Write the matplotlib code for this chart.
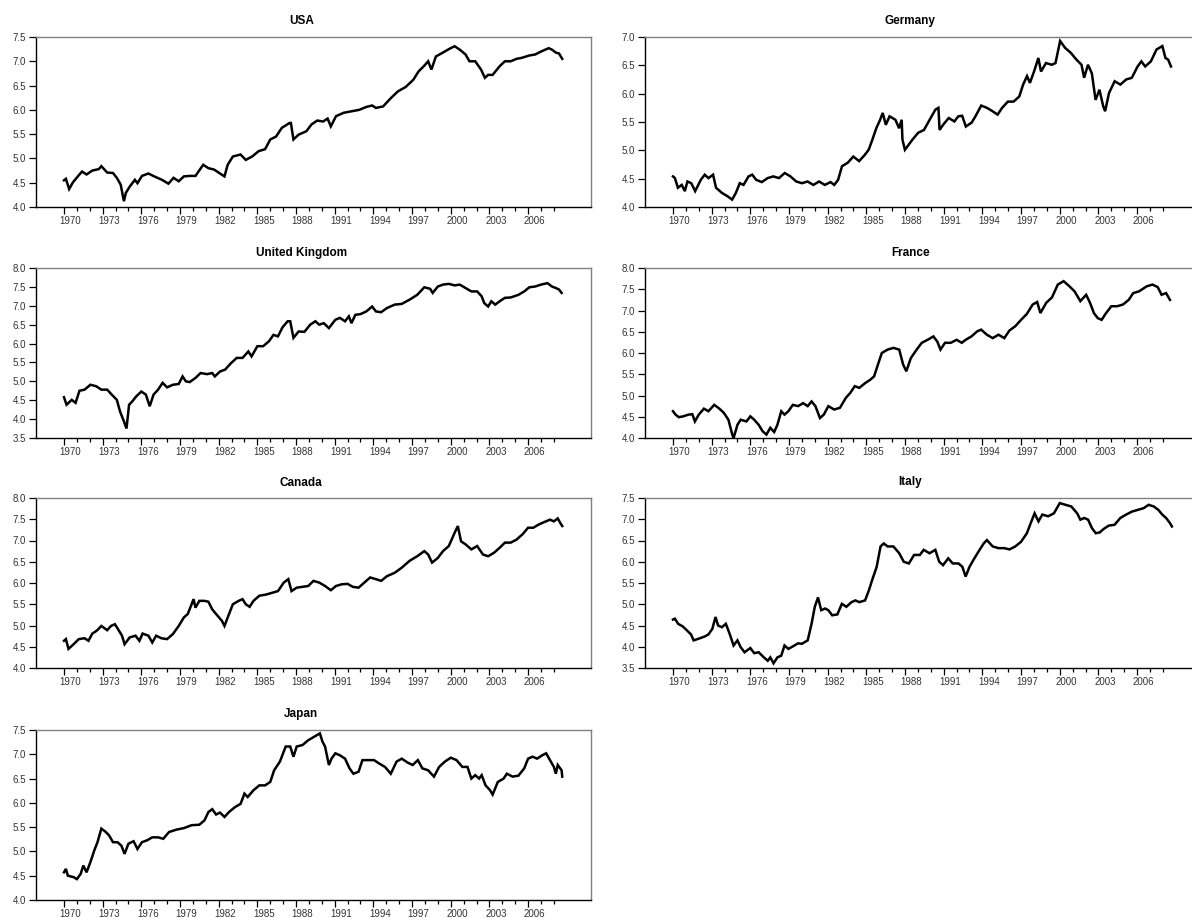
import matplotlib
matplotlib.use("Agg")
import matplotlib.pyplot as plt
from matplotlib.ticker import MultipleLocator, FormatStrFormatter
import matplotlib.transforms as mtransforms

plt.rcParams['font.family'] = ['Liberation Sans', 'DejaVu Sans']

# Log stock price indices (year, value)
usa_t = [1970.0, 1970.15, 1970.4, 1970.7, 1971.2, 1971.4, 1971.75, 1972.2, 1972.7, 1972.9,
         1973.35, 1973.8, 1974.1, 1974.4, 1974.65, 1974.8, 1975.1, 1975.5, 1975.7, 1976.05,
         1976.55, 1977.0, 1977.6, 1978.1, 1978.5, 1978.9, 1979.3, 1979.75, 1980.2, 1980.8,
         1981.2, 1981.65, 1982.1, 1982.45, 1982.7, 1983.1, 1983.7, 1984.1, 1984.6, 1985.1,
         1985.6, 1986.0, 1986.45, 1986.9, 1987.5, 1987.6, 1987.8, 1988.2, 1988.8, 1989.2,
         1989.65, 1990.1, 1990.45, 1990.7, 1991.1, 1991.7, 1992.3, 1992.9, 1993.45, 1993.9,
         1994.2, 1994.75, 1995.35, 1995.9, 1996.5, 1997.1, 1997.5, 1997.95, 1998.25, 1998.5,
         1998.85, 1999.4, 1999.85, 2000.3, 2000.7, 2001.15, 2001.45, 2001.9, 2002.35, 2002.65,
         2002.9, 2003.25, 2003.8, 2004.2, 2004.65, 2005.1, 2005.5, 2006.1, 2006.55, 2007.0,
         2007.6, 2007.85, 2008.15, 2008.4, 2008.65]
usa_v = [4.55, 4.58, 4.37, 4.51, 4.67, 4.73, 4.67, 4.75, 4.78, 4.84,
         4.71, 4.70, 4.60, 4.46, 4.12, 4.29, 4.42, 4.56, 4.49, 4.64,
         4.69, 4.63, 4.56, 4.48, 4.60, 4.53, 4.63, 4.64, 4.64, 4.87,
         4.80, 4.77, 4.69, 4.63, 4.87, 5.04, 5.08, 4.97, 5.04, 5.15,
         5.19, 5.39, 5.45, 5.63, 5.73, 5.73, 5.39, 5.49, 5.56, 5.70,
         5.78, 5.76, 5.82, 5.66, 5.87, 5.94, 5.97, 6.00, 6.06, 6.09,
         6.04, 6.07, 6.24, 6.38, 6.47, 6.62, 6.79, 6.91, 7.00, 6.83,
         7.10, 7.18, 7.25, 7.31, 7.24, 7.14, 7.00, 7.00, 6.83, 6.66,
         6.72, 6.72, 6.90, 7.00, 7.00, 7.05, 7.07, 7.12, 7.14, 7.20,
         7.27, 7.24, 7.18, 7.16, 7.05]

ger_t = [1970.0, 1970.15, 1970.38, 1970.68, 1970.92, 1971.12, 1971.42, 1971.72, 1972.16, 1972.46,
         1972.75, 1973.11, 1973.34, 1973.79, 1974.23, 1974.59, 1974.88, 1975.18, 1975.47, 1975.86,
         1976.15, 1976.45, 1976.89, 1977.34, 1977.78, 1978.22, 1978.67, 1979.11, 1979.56, 1980.0,
         1980.44, 1980.89, 1981.33, 1981.78, 1982.22, 1982.51, 1982.81, 1983.11, 1983.55, 1983.99,
         1984.44, 1984.88, 1985.18, 1985.47, 1985.77, 1986.07, 1986.27, 1986.51, 1986.8, 1987.25,
         1987.54, 1987.74, 1987.8, 1987.99, 1988.58, 1989.02, 1989.47, 1989.91, 1990.36, 1990.59,
         1990.68, 1990.95, 1991.39, 1991.83, 1992.13, 1992.43, 1992.72, 1993.17, 1993.46, 1993.91,
         1994.35, 1994.79, 1995.18, 1995.53, 1995.98, 1996.42, 1996.86, 1997.16, 1997.46, 1997.69,
         1998.05, 1998.34, 1998.55, 1998.93, 1999.38, 1999.67, 2000.03, 2000.41, 2000.86, 2001.3,
         2001.69, 2001.89, 2002.19, 2002.49, 2002.78, 2003.08, 2003.37, 2003.52, 2003.82, 2004.26,
         2004.7, 2005.15, 2005.59, 2006.04, 2006.33, 2006.63, 2007.07, 2007.51, 2007.96, 2008.2,
         2008.41, 2008.63]
ger_v = [4.54, 4.51, 4.34, 4.39, 4.28, 4.45, 4.42, 4.28, 4.48, 4.57,
         4.51, 4.57, 4.34, 4.25, 4.19, 4.13, 4.25, 4.42, 4.39, 4.54,
         4.57, 4.48, 4.44, 4.51, 4.54, 4.51, 4.60, 4.54, 4.45, 4.42,
         4.45, 4.39, 4.45, 4.39, 4.44, 4.39, 4.48, 4.72, 4.78, 4.89,
         4.81, 4.92, 5.01, 5.19, 5.39, 5.54, 5.66, 5.45, 5.60, 5.54,
         5.39, 5.54, 5.19, 5.01, 5.19, 5.31, 5.36, 5.54, 5.72, 5.75,
         5.36, 5.45, 5.57, 5.51, 5.60, 5.61, 5.42, 5.49, 5.60, 5.79,
         5.75, 5.69, 5.63, 5.75, 5.86, 5.86, 5.95, 6.16, 6.31, 6.19,
         6.42, 6.63, 6.39, 6.54, 6.51, 6.54, 6.93, 6.81, 6.72, 6.60,
         6.51, 6.28, 6.51, 6.36, 5.89, 6.07, 5.78, 5.69, 6.01, 6.22,
         6.16, 6.25, 6.28, 6.48, 6.57, 6.48, 6.57, 6.78, 6.84, 6.63,
         6.60, 6.48]

uk_t = [1970.0, 1970.2, 1970.6, 1970.9, 1971.2, 1971.6, 1972.05, 1972.5, 1972.9, 1973.35,
        1973.7, 1974.1, 1974.35, 1974.65, 1974.85, 1975.05, 1975.3, 1975.6, 1976.0, 1976.35,
        1976.65, 1976.95, 1977.3, 1977.65, 1978.0, 1978.45, 1978.9, 1979.2, 1979.45, 1979.75,
        1980.2, 1980.6, 1981.1, 1981.5, 1981.7, 1982.1, 1982.5, 1982.95, 1983.4, 1983.85,
        1984.3, 1984.55, 1985.0, 1985.45, 1985.9, 1986.25, 1986.6, 1986.95, 1987.35, 1987.55,
        1987.8, 1988.2, 1988.65, 1989.1, 1989.5, 1989.8, 1990.15, 1990.55, 1991.05, 1991.4,
        1991.8, 1992.1, 1992.3, 1992.6, 1993.0, 1993.45, 1993.9, 1994.2, 1994.6, 1995.05,
        1995.65, 1996.2, 1996.8, 1997.4, 1997.95, 1998.4, 1998.6, 1999.0, 1999.4, 1999.85,
        2000.3, 2000.7, 2001.15, 2001.6, 2002.05, 2002.4, 2002.6, 2002.9, 2003.15, 2003.45,
        2003.8, 2004.2, 2004.65, 2005.25, 2005.7, 2006.1, 2006.55, 2007.0, 2007.5, 2007.85,
        2008.15, 2008.4, 2008.6]
uk_v = [4.58, 4.38, 4.51, 4.43, 4.75, 4.78, 4.91, 4.87, 4.78, 4.78,
        4.65, 4.51, 4.20, 3.94, 3.75, 4.38, 4.47, 4.60, 4.73, 4.65,
        4.34, 4.65, 4.78, 4.96, 4.84, 4.91, 4.93, 5.13, 5.00, 4.98,
        5.09, 5.22, 5.19, 5.22, 5.13, 5.26, 5.31, 5.48, 5.62, 5.62,
        5.79, 5.66, 5.93, 5.93, 6.06, 6.23, 6.19, 6.43, 6.59, 6.59,
        6.15, 6.32, 6.31, 6.50, 6.59, 6.50, 6.54, 6.41, 6.63, 6.68,
        6.59, 6.72, 6.54, 6.76, 6.78, 6.85, 6.98, 6.85, 6.83, 6.94,
        7.03, 7.05, 7.16, 7.29, 7.49, 7.45, 7.34, 7.51, 7.56, 7.58,
        7.54, 7.56, 7.47, 7.38, 7.38, 7.25, 7.07, 6.98, 7.12, 7.03,
        7.12, 7.21, 7.22, 7.29, 7.38, 7.49, 7.51, 7.56, 7.60, 7.51,
        7.47, 7.43, 7.34]

fra_t = [1970.0, 1970.2, 1970.45, 1970.8, 1971.2, 1971.5, 1971.7, 1972.0, 1972.4, 1972.75,
         1973.2, 1973.6, 1973.95, 1974.3, 1974.6, 1974.7, 1975.0, 1975.25, 1975.7, 1976.0,
         1976.3, 1976.65, 1976.95, 1977.25, 1977.55, 1977.85, 1978.1, 1978.4, 1978.65, 1978.95,
         1979.3, 1979.7, 1980.1, 1980.45, 1980.75, 1981.05, 1981.4, 1981.7, 1982.05, 1982.5,
         1982.95, 1983.4, 1983.75, 1984.1, 1984.45, 1984.9, 1985.3, 1985.6, 1985.9, 1986.2,
         1986.65, 1987.1, 1987.55, 1987.85, 1988.1, 1988.45, 1988.9, 1989.3, 1989.75, 1990.2,
         1990.5, 1990.75, 1991.1, 1991.55, 1992.0, 1992.4, 1992.7, 1993.15, 1993.6, 1993.9,
         1994.35, 1994.8, 1995.25, 1995.7, 1996.1, 1996.55, 1997.0, 1997.45, 1997.9, 1998.25,
         1998.5, 1998.95, 1999.4, 1999.85, 2000.3, 2000.75, 2001.15, 2001.6, 2002.05, 2002.35,
         2002.65, 2002.95, 2003.25, 2003.55, 2004.0, 2004.45, 2004.9, 2005.35, 2005.7, 2006.15,
         2006.75, 2007.2, 2007.6, 2007.9, 2008.25, 2008.55]
fra_v = [4.63, 4.55, 4.49, 4.51, 4.55, 4.56, 4.39, 4.55, 4.69, 4.63,
         4.78, 4.69, 4.59, 4.43, 4.08, 4.00, 4.31, 4.43, 4.39, 4.51,
         4.43, 4.31, 4.16, 4.08, 4.24, 4.14, 4.31, 4.63, 4.55, 4.63,
         4.78, 4.75, 4.82, 4.75, 4.86, 4.75, 4.47, 4.55, 4.75, 4.67,
         4.71, 4.94, 5.06, 5.22, 5.18, 5.29, 5.37, 5.45, 5.73, 6.00,
         6.08, 6.12, 6.08, 5.73, 5.57, 5.88, 6.08, 6.24, 6.31, 6.39,
         6.27, 6.08, 6.24, 6.24, 6.31, 6.24, 6.31, 6.39, 6.51, 6.55,
         6.43, 6.35, 6.43, 6.35, 6.53, 6.63, 6.78, 6.92, 7.14, 7.20,
         6.94, 7.18, 7.31, 7.61, 7.69, 7.57, 7.45, 7.22, 7.37, 7.18,
         6.94, 6.82, 6.78, 6.92, 7.10, 7.10, 7.14, 7.25, 7.41, 7.45,
         7.57, 7.61, 7.55, 7.37, 7.41, 7.25]

can_t = [1970.0, 1970.15, 1970.35, 1970.75, 1971.15, 1971.6, 1971.9, 1972.2, 1972.55, 1972.9,
         1973.35, 1973.65, 1973.95, 1974.2, 1974.5, 1974.7, 1975.1, 1975.55, 1975.85, 1976.1,
         1976.55, 1976.85, 1977.15, 1977.55, 1978.0, 1978.45, 1978.9, 1979.3, 1979.6, 1979.9,
         1980.05, 1980.2, 1980.5, 1980.9, 1981.2, 1981.5, 1981.8, 1982.25, 1982.45, 1982.7,
         1983.1, 1983.55, 1983.85, 1984.1, 1984.4, 1984.7, 1985.15, 1985.7, 1986.15, 1986.6,
         1987.05, 1987.4, 1987.65, 1988.05, 1988.5, 1988.95, 1989.35, 1989.8, 1990.25, 1990.7,
         1991.1, 1991.55, 1992.0, 1992.4, 1992.85, 1993.3, 1993.75, 1994.2, 1994.6, 1995.05,
         1995.65, 1996.2, 1996.8, 1997.4, 1997.95, 1998.25, 1998.55, 1999.0, 1999.4, 1999.85,
         2000.3, 2000.55, 2000.8, 2001.15, 2001.6, 2002.05, 2002.5, 2002.9, 2003.35, 2003.8,
         2004.2, 2004.65, 2005.1, 2005.55, 2006.0, 2006.4, 2006.85, 2007.3, 2007.7, 2008.0,
         2008.3, 2008.5, 2008.65]
can_v = [4.64, 4.68, 4.45, 4.56, 4.68, 4.70, 4.64, 4.81, 4.88, 4.99,
         4.89, 4.99, 5.03, 4.91, 4.76, 4.56, 4.72, 4.76, 4.64, 4.81,
         4.76, 4.60, 4.76, 4.70, 4.68, 4.80, 4.99, 5.19, 5.27, 5.50,
         5.62, 5.42, 5.58, 5.58, 5.56, 5.38, 5.27, 5.11, 4.99, 5.19,
         5.50, 5.58, 5.62, 5.50, 5.44, 5.58, 5.70, 5.73, 5.77, 5.81,
         6.01, 6.09, 5.81, 5.89, 5.91, 5.93, 6.05, 6.01, 5.93, 5.83,
         5.93, 5.97, 5.98, 5.91, 5.89, 6.01, 6.13, 6.09, 6.05, 6.16,
         6.24, 6.36, 6.52, 6.63, 6.75, 6.67, 6.48, 6.59, 6.75, 6.87,
         7.18, 7.34, 6.98, 6.91, 6.79, 6.87, 6.67, 6.63, 6.71, 6.83,
         6.95, 6.95, 7.02, 7.14, 7.30, 7.30, 7.38, 7.44, 7.49, 7.45,
         7.52, 7.41, 7.34]

ita_t = [1970.0, 1970.15, 1970.4, 1970.75, 1971.1, 1971.4, 1971.6, 1972.0, 1972.45, 1972.75,
         1973.05, 1973.3, 1973.5, 1973.8, 1974.1, 1974.4, 1974.7, 1975.0, 1975.25, 1975.55,
         1976.0, 1976.3, 1976.65, 1977.05, 1977.35, 1977.55, 1977.8, 1978.1, 1978.4, 1978.65,
         1978.95, 1979.25, 1979.7, 1980.0, 1980.45, 1980.75, 1981.0, 1981.25, 1981.5, 1981.8,
         1982.05, 1982.35, 1982.75, 1983.1, 1983.45, 1983.85, 1984.15, 1984.45, 1984.9, 1985.2,
         1985.45, 1985.8, 1986.1, 1986.35, 1986.65, 1987.1, 1987.55, 1987.9, 1988.3, 1988.7,
         1989.15, 1989.45, 1989.9, 1990.35, 1990.65, 1990.95, 1991.35, 1991.7, 1992.15, 1992.45,
         1992.7, 1993.0, 1993.3, 1993.7, 1994.1, 1994.35, 1994.8, 1995.25, 1995.7, 1996.1,
         1996.55, 1997.0, 1997.45, 1997.75, 1998.05, 1998.35, 1998.65, 1999.1, 1999.55, 2000.0,
         2000.45, 2000.9, 2001.35, 2001.6, 2001.9, 2002.2, 2002.5, 2002.8, 2003.1, 2003.4,
         2003.8, 2004.25, 2004.7, 2005.15, 2005.6, 2006.05, 2006.5, 2006.9, 2007.3, 2007.65,
         2007.95, 2008.25, 2008.55, 2008.7]
ita_v = [4.64, 4.66, 4.54, 4.48, 4.38, 4.29, 4.15, 4.19, 4.24, 4.29,
         4.42, 4.70, 4.50, 4.46, 4.54, 4.30, 4.03, 4.15, 3.99, 3.87,
         3.97, 3.85, 3.87, 3.75, 3.67, 3.75, 3.61, 3.75, 3.79, 4.03,
         3.95, 4.00, 4.08, 4.07, 4.15, 4.54, 4.94, 5.16, 4.86, 4.90,
         4.86, 4.74, 4.76, 5.01, 4.94, 5.05, 5.09, 5.05, 5.09, 5.33,
         5.57, 5.88, 6.36, 6.43, 6.36, 6.36, 6.20, 6.00, 5.96, 6.16,
         6.16, 6.28, 6.20, 6.28, 6.00, 5.92, 6.08, 5.96, 5.96, 5.88,
         5.65, 5.88, 6.04, 6.24, 6.43, 6.51, 6.36, 6.32, 6.32, 6.29,
         6.36, 6.47, 6.67, 6.91, 7.14, 6.95, 7.11, 7.07, 7.14, 7.38,
         7.34, 7.30, 7.14, 6.99, 7.03, 6.99, 6.79, 6.67, 6.69, 6.77,
         6.85, 6.87, 7.03, 7.11, 7.18, 7.22, 7.26, 7.34, 7.30, 7.22,
         7.11, 7.03, 6.91, 6.83]

jpn_t = [1970.0, 1970.15, 1970.3, 1970.75, 1971.0, 1971.3, 1971.5, 1971.75, 1972.05, 1972.35,
         1972.6, 1972.9, 1973.2, 1973.5, 1973.8, 1974.15, 1974.45, 1974.7, 1975.0, 1975.4,
         1975.7, 1976.05, 1976.45, 1976.85, 1977.3, 1977.7, 1978.15, 1978.75, 1979.3, 1979.9,
         1980.5, 1980.9, 1981.2, 1981.5, 1981.8, 1982.1, 1982.45, 1982.8, 1983.25, 1983.7,
         1984.0, 1984.25, 1984.7, 1985.15, 1985.6, 1986.0, 1986.3, 1986.75, 1987.2, 1987.55,
         1987.8, 1988.05, 1988.5, 1988.95, 1989.4, 1989.85, 1990.05, 1990.25, 1990.55, 1990.75,
         1991.05, 1991.4, 1991.8, 1992.15, 1992.45, 1992.85, 1993.15, 1993.6, 1994.05, 1994.45,
         1994.9, 1995.35, 1995.8, 1996.2, 1996.65, 1997.05, 1997.45, 1997.8, 1998.25, 1998.7,
         1999.1, 1999.55, 2000.0, 2000.45, 2000.9, 2001.3, 2001.6, 2001.9, 2002.2, 2002.4,
         2002.7, 2003.05, 2003.25, 2003.65, 2004.1, 2004.35, 2004.8, 2005.25, 2005.7, 2006.0,
         2006.35, 2006.7, 2007.1, 2007.4, 2007.7, 2008.0, 2008.15, 2008.3, 2008.6, 2008.65]
jpn_v = [4.57, 4.64, 4.50, 4.47, 4.43, 4.54, 4.71, 4.57, 4.78, 5.02,
         5.19, 5.47, 5.41, 5.33, 5.19, 5.19, 5.12, 4.95, 5.16, 5.21,
         5.05, 5.19, 5.23, 5.29, 5.29, 5.26, 5.40, 5.45, 5.48, 5.54,
         5.55, 5.64, 5.81, 5.87, 5.76, 5.80, 5.71, 5.81, 5.91, 5.98,
         6.19, 6.12, 6.26, 6.36, 6.36, 6.43, 6.67, 6.85, 7.16, 7.16,
         6.95, 7.16, 7.19, 7.29, 7.36, 7.43, 7.26, 7.16, 6.78, 6.91,
         7.02, 6.98, 6.91, 6.71, 6.60, 6.64, 6.88, 6.88, 6.88, 6.81,
         6.74, 6.60, 6.85, 6.91, 6.83, 6.78, 6.88, 6.71, 6.67, 6.54,
         6.74, 6.85, 6.93, 6.88, 6.74, 6.74, 6.50, 6.57, 6.50, 6.57,
         6.36, 6.26, 6.17, 6.43, 6.50, 6.60, 6.54, 6.56, 6.71, 6.91,
         6.95, 6.91, 6.98, 7.02, 6.88, 6.74, 6.60, 6.78, 6.67, 6.54]

panels = [
    ("USA", usa_t, usa_v, (4.0, 7.5)),
    ("Germany", ger_t, ger_v, (4.0, 7.0)),
    ("United Kingdom", uk_t, uk_v, (3.5, 8.0)),
    ("France", fra_t, fra_v, (4.0, 8.0)),
    ("Canada", can_t, can_v, (4.0, 8.0)),
    ("Italy", ita_t, ita_v, (3.5, 7.5)),
    ("Japan", jpn_t, jpn_v, (4.0, 7.5)),
]

W, H = 1192, 918
fig = plt.figure(figsize=(W / 100, H / 100), dpi=100)

col_left = [36, 645]
row_top = [37, 268, 498, 730]
ax_w, ax_h = 555, 170
label_years = list(range(1970, 2007, 3))
all_years = list(range(1970, 2009))

for i, (name, t, v, ylim) in enumerate(panels):
    r, c = divmod(i, 2)
    x0 = col_left[c]
    y0 = row_top[r] + ax_h
    ax = fig.add_axes([x0 / W, 1 - y0 / H, ax_w / W, ax_h / H])
    ax.plot(t, v, color='black', lw=1.8, solid_joinstyle='miter')
    ax.set_xlim(1967.83, 2010.88)
    ax.set_ylim(*ylim)

    ax.yaxis.set_major_locator(MultipleLocator(0.5))
    ax.yaxis.set_major_formatter(FormatStrFormatter('%.1f'))
    ax.set_xticks(label_years)
    ax.set_xticks(all_years, minor=True)
    ax.set_xticklabels([])
    ax.tick_params(axis='x', which='major', direction='out', length=5, width=0.9, color='black')
    ax.tick_params(axis='x', which='minor', direction='out', length=3, width=0.9, color='black')
    ax.tick_params(axis='y', which='major', direction='out', length=5, width=0.9,
                   labelsize=7, labelcolor='#333333', pad=2)

    # year labels sit in the middle of the year, as in the original
    trans = mtransforms.blended_transform_factory(ax.transData, ax.transAxes)
    for yr in label_years:
        ax.text(yr + 0.5, -0.055, str(yr), transform=trans, ha='center', va='top',
                fontsize=7, color='#333333')

    for side in ['left', 'bottom']:
        ax.spines[side].set_color('black')
        ax.spines[side].set_linewidth(1.0)
    for side in ['top', 'right']:
        ax.spines[side].set_color('#808080')
        ax.spines[side].set_linewidth(1.0)

    ax.set_title(name, fontsize=8.5, fontweight='bold', pad=9, x=0.478)

fig.savefig('out.png', dpi=100)
